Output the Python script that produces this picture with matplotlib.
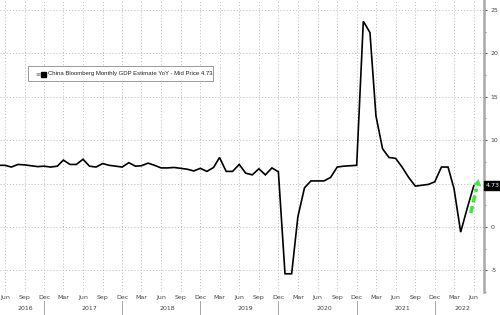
import matplotlib
matplotlib.use("Agg")
import matplotlib.pyplot as plt
import matplotlib.dates as mdates
import matplotlib.transforms as mtransforms
from matplotlib.patches import Rectangle
from matplotlib.lines import Line2D
import numpy as np
import datetime as dt

plt.rcParams['axes.unicode_minus'] = False

# ---- data (monthly, May 2016 .. Jun 2022) ----
start_year, start_month = 2016, 5
gdp_yoy = [
    7.1, 7.1, 6.9, 7.2, 7.15, 7.05, 6.95, 7.0,                       # 2016 May-Dec
    6.9, 7.0, 7.7, 7.2, 7.2, 7.8, 7.0, 6.9, 7.3, 7.1, 7.0, 6.9,      # 2017
    7.4, 7.0, 7.05, 7.35, 7.1, 6.8, 6.8, 6.85, 6.75, 6.65, 6.45, 6.75, # 2018
    6.4, 6.85, 8.0, 6.4, 6.4, 7.2, 6.2, 6.0, 6.7, 6.0, 6.8, 6.35,    # 2019
    -5.4, -5.4, 1.15, 4.5, 5.3, 5.3, 5.3, 5.7, 6.9, 7.0, 7.05, 7.1,  # 2020
    23.7, 22.4, 12.8, 9.0, 8.0, 7.9, 6.9, 5.7, 4.7, 4.8, 4.9, 5.2,   # 2021
    6.9, 6.9, 4.4, -0.6, 2.1, 4.73,                                  # 2022 Jan-Jun
]
last_value = 4.73
legend_label = "China Bloomberg Monthly GDP Estimate YoY - Mid Price 4.73"
y_ticks = [-5, 0, 5, 10, 15, 20, 25]
y_tick_labels = ["-5", "0", "", "10", "15", "20", "25"]   # "5" hidden under the value tag
years = [2016, 2017, 2018, 2019, 2020, 2021, 2022]
arrow_start = (dt.date(2022, 5, 18), 1.6)
arrow_end = (dt.date(2022, 6, 24), 5.5)

def month_add(y, m, k):
    t = (y * 12 + (m - 1)) + k
    return dt.date(t // 12, t % 12 + 1, 1)

dates = [month_add(start_year, start_month, i) for i in range(len(gdp_yoy))]

W, H = 500, 315
fig = plt.figure(figsize=(W / 100, H / 100), dpi=100)
ax = fig.add_axes([0, 1 - 292 / H, 484 / W, 292 / H])

xmin = mdates.date2num(dt.date(2016, 5, 9))
xmax = mdates.date2num(dt.date(2022, 7, 19))
ax.set_xlim(xmin, xmax)
ax.set_ylim(-7.4, 26.15)

# grid
ax.xaxis.set_major_locator(mdates.MonthLocator(bymonth=[3, 6, 9, 12]))
ax.xaxis.set_major_formatter(mdates.DateFormatter('%b'))
ax.set_yticks(y_ticks)
ax.set_yticklabels(y_tick_labels)
ax.set_yticks(np.arange(-7.5, 26, 2.5), minor=True)
ax.grid(True, which='major', color='#c4c4c4', linestyle=(0, (1.2, 2.0)), linewidth=0.7)

ax.plot(mdates.date2num(dates), gdp_yoy, color='black', linewidth=1.2, zorder=3,
        solid_joinstyle='miter')

# spines
for s in ['top', 'left', 'bottom']:
    ax.spines[s].set_visible(False)
ax.spines['right'].set_color('#a8a8a8')
ax.spines['right'].set_linewidth(1.8)

ax.yaxis.tick_right()
ax.tick_params(axis='y', which='major', direction='out', length=2.5, width=0.8,
               color='#555555', labelsize=4.5, labelcolor='#444444', pad=2)
ax.tick_params(axis='y', which='minor', direction='out', length=1.5, width=0.6, color='#777777')
ax.tick_params(axis='x', which='major', length=0, labelsize=4.5, labelcolor='#444444', pad=2.5)

# year labels and separators
trans = mtransforms.blended_transform_factory(ax.transData, fig.transFigure)
for yr in years:
    a = max(mdates.date2num(dt.date(yr, 1, 1)), xmin)
    b = min(mdates.date2num(dt.date(yr, 12, 31)), xmax)
    ax.text((a + b) / 2, 1 - 309 / H, str(yr), transform=trans, fontsize=4.5,
            color='#444444', ha='center', va='center', clip_on=False)
    if yr < 2022:
        xs = mdates.date2num(dt.date(yr, 12, 1))
        fig.add_artist(Line2D([xs, xs], [1 - 301 / H, 0], transform=trans,
                              color='#999999', linewidth=0.6))

# legend box
fig.add_artist(Rectangle((28 / W, 1 - 81 / H), (213 - 28) / W, 15 / H,
                         transform=fig.transFigure, facecolor='white',
                         edgecolor='#999999', linewidth=0.7, zorder=5))
fig.text(35 / W, 1 - 73.5 / H, "≡", fontsize=4.5, color='#666666', va='center', ha='left', zorder=6)
fig.add_artist(Rectangle((40.5 / W, 1 - 76.5 / H), 5 / W, 5 / H, transform=fig.transFigure,
                         facecolor='black', edgecolor='black', zorder=6))
fig.text(48 / W, 1 - 73.5 / H, legend_label, fontsize=4.3, color='#222222',
         family='Liberation Sans', va='center', ha='left', zorder=6)

# last value tag
ytrans = mtransforms.blended_transform_factory(fig.transFigure, ax.transData)
ax.text(493 / W, last_value, f"{last_value:.2f}", transform=ytrans, fontsize=4.5,
        color='white', ha='center', va='center', clip_on=False, zorder=7,
        bbox=dict(boxstyle='square,pad=0.3', facecolor='black', edgecolor='black'))

# green arrow
x0, y0 = mdates.date2num(arrow_start[0]), arrow_start[1]
x1, y1 = mdates.date2num(arrow_end[0]), arrow_end[1]
ax.plot([x0, x0 + (x1 - x0) * 0.72], [y0, y0 + (y1 - y0) * 0.72], color='#3ee83e',
        linewidth=2.6, linestyle=(0, (2.0, 1.0)), zorder=4, solid_capstyle='butt')
ax.annotate('', xy=(x1, y1), xytext=(x0 + (x1 - x0) * 0.6, y0 + (y1 - y0) * 0.6),
            arrowprops=dict(arrowstyle='-|>,head_length=0.45,head_width=0.28',
                            color='#3ee83e', lw=0.1, shrinkA=0, shrinkB=0), zorder=4)

fig.savefig('out.png', dpi=100)
